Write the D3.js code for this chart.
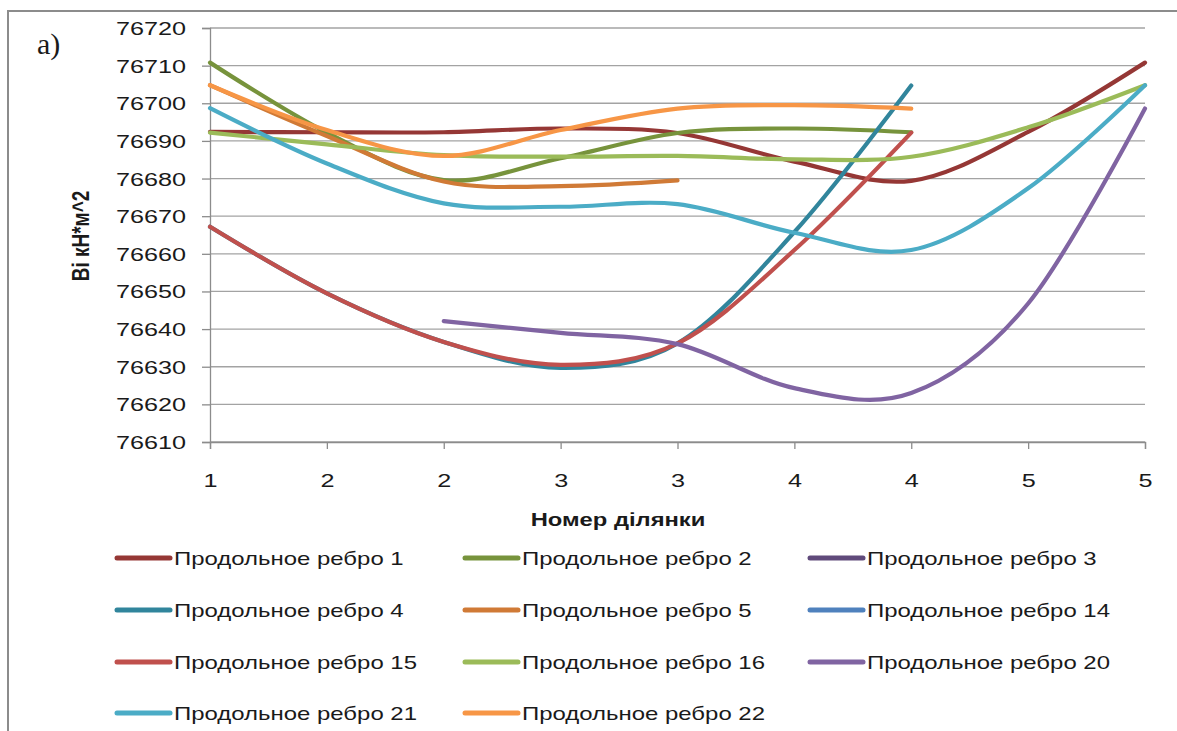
<!DOCTYPE html>
<html>
<head>
<meta charset="utf-8">
<script src="https://cdn.jsdelivr.net/npm/d3@7"></script>
<style>
  html, body { margin: 0; padding: 0; background: #ffffff; }
  svg { display: block; }
  text { fill: #1a1a1a; }
</style>
</head>
<body>
<svg id="chart" width="1177" height="731"></svg>
<script>
// Section numbers along the girder (category axis)
const xLabels = ["1", "2", "2", "3", "3", "4", "4", "5", "5"];

// Y axis ticks, kN*m^2
const yTicks = [76610, 76620, 76630, 76640, 76650, 76660, 76670, 76680, 76690, 76700, 76710, 76720];

// Stiffness Bi of each longitudinal rib per section (null = no value)
const rib1  = [76692.4, 76692.3, 76692.3, 76693.3, 76692.1, 76684.5, 76679.4, 76692.4, 76710.8];
const rib2  = [76710.8, 76692.2, 76679.6, 76685.4, 76692.1, 76693.3, 76692.3, null, null];
const rib3  = [null, null, null, null, null, null, null, null, null];
const rib4  = [76667.2, 76649.5, 76636.6, 76629.7, 76636.2, 76665.8, 76704.7, null, null];
const rib5  = [76704.8, 76691.3, 76679.2, 76678.0, 76679.5, null, null, null, null];
const rib14 = [null, null, null, null, null, null, null, null, null];
const rib15 = [76667.2, 76649.5, 76636.6, 76630.5, 76636.2, 76661.0, 76692.2, null, null];
const rib16 = [76692.2, 76689.1, 76686.2, 76685.8, 76686.0, 76685.1, 76685.8, 76693.6, 76704.8];
const rib20 = [null, null, 76642.1, 76639.0, 76636.0, 76624.3, 76623.0, 76646.8, 76698.6];
const rib21 = [76698.7, 76684.0, 76673.4, 76672.5, 76673.2, 76665.6, 76661.0, 76677.4, 76704.8];
const rib22 = [76704.8, 76692.9, 76686.0, 76692.9, 76698.6, 76699.5, 76698.6, null, null];

const seriesNames = [
  "Продольное ребро 1", "Продольное ребро 2", "Продольное ребро 3",
  "Продольное ребро 4", "Продольное ребро 5", "Продольное ребро 14",
  "Продольное ребро 15", "Продольное ребро 16", "Продольное ребро 20",
  "Продольное ребро 21", "Продольное ребро 22"
];
const seriesValues = [rib1, rib2, rib3, rib4, rib5, rib14, rib15, rib16, rib20, rib21, rib22];
const seriesColors = [
  "#953735", "#77933C", "#604A7B", "#31859C", "#D07A36", "#4F81BD",
  "#C0504D", "#9BBB59", "#8064A2", "#4BACC6", "#F79646"
];

const yTitle = "Ві кН*м^2";
const xTitle = "Номер ділянки";
const panelLabel = "a)";

const SANS = "'Liberation Sans', Arial, sans-serif";
const SERIF = "'Liberation Serif', 'Times New Roman', serif";

// ---- layout ----
const plot = { left: 210, right: 1145, top: 28, bottom: 442 };
const svg = d3.select("#chart");

// the rendered text is horizontally wider than the font's natural width
function widen(sel, k) {
  sel.each(function () {
    const w = this.getComputedTextLength();
    d3.select(this).attr("textLength", w * k).attr("lengthAdjust", "spacingAndGlyphs");
  });
}

// outer frame
svg.append("rect")
  .attr("x", 8).attr("y", 11).attr("width", 1200).attr("height", 760)
  .attr("fill", "none").attr("stroke", "#8c8c8c").attr("stroke-width", 2);

const x = d3.scalePoint()
  .domain(d3.range(xLabels.length))
  .range([plot.left, plot.right]);

const y = d3.scaleLinear()
  .domain([d3.min(yTicks), d3.max(yTicks)])
  .range([plot.bottom, plot.top]);

// horizontal gridlines
svg.append("g")
  .selectAll("line")
  .data(yTicks)
  .join("line")
  .attr("x1", plot.left).attr("x2", plot.right)
  .attr("y1", d => y(d)).attr("y2", d => y(d))
  .attr("stroke", "#a3a3a3").attr("stroke-width", 1.3);

// y axis
const yAxis = svg.append("g")
  .attr("transform", `translate(${plot.left},0)`)
  .call(d3.axisLeft(y).tickValues(yTicks).tickSize(8).tickPadding(16).tickFormat(d3.format("d")));
yAxis.select(".domain").attr("stroke", "#8c8c8c").attr("stroke-width", 1.3);
yAxis.selectAll(".tick line").attr("stroke", "#8c8c8c").attr("stroke-width", 1.3);
yAxis.selectAll(".tick text")
  .style("font-family", SANS).style("font-size", "18px")
  .attr("fill", "#1a1a1a").attr("dy", "0.36em")
  .call(widen, 1.4);

// x axis
const xAxis = svg.append("g")
  .attr("transform", `translate(0,${plot.bottom})`)
  .call(d3.axisBottom(x).tickSize(7).tickPadding(25).tickFormat(i => xLabels[i]));
xAxis.select(".domain").attr("stroke", "#8c8c8c").attr("stroke-width", 1.3);
xAxis.selectAll(".tick line").attr("stroke", "#8c8c8c").attr("stroke-width", 1.3);
xAxis.selectAll(".tick text")
  .style("font-family", SANS).style("font-size", "18px")
  .attr("fill", "#1a1a1a")
  .call(widen, 1.4);

// series lines, drawn in order so later ribs sit on top
const line = d3.line()
  .defined(d => d != null)
  .x((d, i) => x(i))
  .y(d => y(d))
  .curve(d3.curveCardinal.tension(0));

svg.append("g")
  .selectAll("path")
  .data(seriesValues)
  .join("path")
  .attr("d", vals => line(vals))
  .attr("fill", "none")
  .attr("stroke", (d, i) => seriesColors[i])
  .attr("stroke-width", 4.2)
  .attr("stroke-linecap", "round")
  .attr("stroke-linejoin", "round");

// axis titles
svg.append("text")
  .attr("x", 618).attr("y", 526)
  .attr("text-anchor", "middle")
  .style("font-family", SANS).style("font-size", "19px").style("font-weight", "bold")
  .text(xTitle)
  .call(widen, 1.25);

svg.append("text")
  .attr("transform", "translate(89,236) scale(1.3,1) rotate(-90)")
  .attr("text-anchor", "middle")
  .style("font-family", SANS).style("font-size", "19px").style("font-weight", "bold")
  .text(yTitle);

// panel label
svg.append("text")
  .attr("x", 37).attr("y", 54)
  .style("font-family", SERIF).style("font-size", "30px")
  .text(panelLabel);

// legend, three columns
const legCols = [115, 463, 808];
const legRows = [558, 610, 662, 713];
const leg = svg.append("g")
  .selectAll("g")
  .data(seriesNames)
  .join("g")
  .attr("transform", (d, i) => `translate(${legCols[i % 3]},${legRows[Math.floor(i / 3)]})`);

leg.append("line")
  .attr("x1", 2).attr("x2", 55).attr("y1", 0).attr("y2", 0)
  .attr("stroke", (d, i) => seriesColors[i])
  .attr("stroke-width", 5)
  .attr("stroke-linecap", "round");

leg.append("text")
  .attr("x", 59).attr("y", 0).attr("dy", "0.36em")
  .style("font-family", SANS).style("font-size", "19px")
  .text(d => d)
  .call(widen, 1.26);
</script>
</body>
</html>
